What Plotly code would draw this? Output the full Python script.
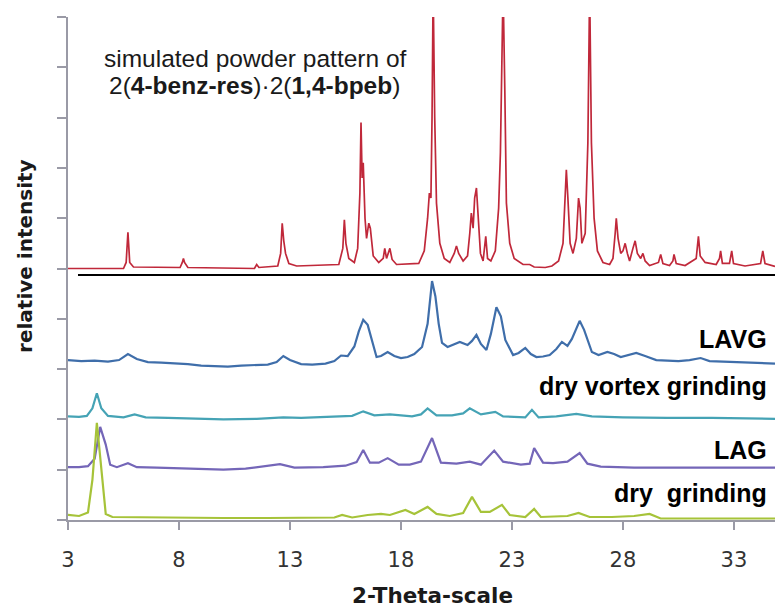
import plotly.graph_objects as go

# ---------------- data ----------------
# x axis: 2-theta in degrees; y axis: relative intensity (arbitrary units, stacked)
x_ticks = [3, 8, 13, 18, 23, 28, 33]
x_tick_labels = ["3", "8", "13", "18", "23", "28", "33"]
y_ticks = [0, 1, 2, 3, 4, 5, 6, 7, 8, 9, 10]

sim_x = [3.0, 5.5, 5.62, 5.67, 5.7, 5.73, 5.78, 5.95,
         8.05, 8.15, 8.2, 8.25, 8.4,
         11.4, 11.5, 11.6,
         12.45, 12.58, 12.65, 12.72, 12.8, 12.95, 13.3,
         15.2, 15.38, 15.45, 15.52, 15.65, 15.9,
         16.05, 16.15, 16.2, 16.25, 16.3, 16.38, 16.45, 16.55, 16.62, 16.75, 17.0,
         17.2, 17.27, 17.35, 17.5, 17.6, 17.8,
         18.8, 19.05, 19.2, 19.28, 19.35, 19.4, 19.45, 19.52, 19.6, 19.75, 19.95, 20.2,
         20.4, 20.5, 20.6, 20.8,
         21.0, 21.1, 21.17, 21.25, 21.32, 21.4, 21.48, 21.58, 21.7, 21.77, 21.82, 21.9, 22.05,
         22.25, 22.4, 22.48, 22.55, 22.6, 22.68, 22.75, 22.9, 23.1, 23.5,
         23.8, 24.0, 24.5, 24.8,
         25.1, 25.3, 25.4, 25.45, 25.52, 25.62, 25.75, 25.9, 26.0, 26.07, 26.15, 26.3,
         26.42, 26.5, 26.58, 26.7, 26.85, 27.1, 27.4,
         27.55, 27.65, 27.7, 27.78, 27.9, 28.0, 28.1, 28.2, 28.3, 28.45, 28.55, 28.65,
         28.8, 28.9, 29.0, 29.2, 29.6, 29.7, 29.8, 30.1, 30.25, 30.3, 30.4, 30.8,
         31.3, 31.4, 31.48, 31.7, 32.2, 32.35, 32.4, 32.48, 32.8, 32.9, 32.98, 33.5,
         34.2, 34.3, 34.4, 34.85]
sim_y = [5.0, 5.0, 5.12, 5.5, 5.72, 5.5, 5.12, 5.03,
         5.02, 5.12, 5.2, 5.12, 5.02,
         5.0, 5.08, 5.02,
         5.05, 5.3, 5.9, 5.55, 5.3, 5.1, 5.05,
         5.08, 5.4, 5.97, 5.5, 5.2, 5.12,
         5.4, 6.5, 7.9, 6.8, 7.1, 6.0, 5.6, 5.9, 5.8, 5.25, 5.12,
         5.2, 5.4, 5.2, 5.4, 5.18, 5.08,
         5.1, 5.35, 6.0, 6.5, 6.4, 8.0, 10.6, 8.0, 6.3, 5.5, 5.2, 5.12,
         5.3, 5.45, 5.3, 5.15,
         5.25, 5.7, 6.1, 5.8, 6.4, 6.6, 5.9, 5.3, 5.15, 5.5, 5.64, 5.2, 5.15,
         5.35, 6.2, 7.3, 9.0, 10.6, 8.5, 6.3, 5.5, 5.2, 5.08,
         5.08, 5.03, 5.02, 5.05,
         5.15, 5.5, 6.5, 6.96, 6.4, 5.5, 5.3, 5.6, 6.4, 6.2, 5.5, 5.7,
         7.5, 10.6, 7.5, 6.0, 5.35, 5.12, 5.08,
         5.2, 5.7, 6.0, 5.6, 5.3, 5.35, 5.5, 5.3, 5.15, 5.4, 5.55, 5.3,
         5.2, 5.3, 5.15, 5.06, 5.12, 5.28, 5.1, 5.06, 5.15, 5.28, 5.1, 5.06,
         5.2, 5.64, 5.25, 5.12, 5.08, 5.2, 5.35, 5.1, 5.1, 5.35, 5.1, 5.05,
         5.1, 5.35, 5.1, 5.04]

lavg_x = [3.0, 3.6, 4.2, 4.8, 5.3, 5.7, 6.1, 6.6, 7.2, 7.8, 8.4, 9.0, 9.6, 10.2, 10.8,
          11.4, 12.0, 12.4, 12.7, 13.0, 13.5, 14.0, 14.6, 15.0, 15.3, 15.6, 15.9, 16.1,
          16.3, 16.5, 16.7, 16.9, 17.1, 17.4, 17.7, 18.0, 18.3, 18.6, 18.95, 19.2, 19.4,
          19.55, 19.7, 19.85, 20.1, 20.4, 20.65, 21.0, 21.2, 21.4, 21.6, 21.85, 22.05,
          22.3, 22.5, 22.7, 23.05, 23.3, 23.6, 23.85, 24.1, 24.4, 24.7, 25.0, 25.25,
          25.5, 25.7, 26.05, 26.25, 26.6, 26.9, 27.3, 27.6, 27.9, 28.2, 28.6, 29.0,
          29.5, 30.0, 30.5, 31.0, 31.5, 31.9, 32.4, 32.9, 33.4, 33.9, 34.4, 34.85]
lavg_y = [3.18, 3.16, 3.17, 3.15, 3.18, 3.30, 3.20, 3.14, 3.13, 3.12, 3.10, 3.07, 3.06,
          3.05, 3.07, 3.08, 3.09, 3.14, 3.26, 3.18, 3.10, 3.09, 3.11, 3.16, 3.27, 3.26,
          3.45, 3.75, 3.98, 3.88, 3.55, 3.24, 3.26, 3.34, 3.26, 3.22, 3.24, 3.30, 3.44,
          3.90, 4.75, 4.45, 3.90, 3.52, 3.44, 3.50, 3.54, 3.48, 3.56, 3.68, 3.50, 3.38,
          3.70, 4.23, 4.05, 3.58, 3.28, 3.32, 3.42, 3.30, 3.24, 3.25, 3.28, 3.40, 3.54,
          3.46, 3.60, 3.96, 3.78, 3.34, 3.28, 3.34, 3.30, 3.24, 3.27, 3.32, 3.26,
          3.18, 3.17, 3.16, 3.18, 3.22, 3.16, 3.15, 3.14, 3.13, 3.13, 3.11, 3.11]

dvg_x = [3.0, 3.5, 3.85, 4.1, 4.3, 4.5, 4.8, 5.5, 6.0, 6.5, 7.5, 8.5, 10.0, 11.5, 12.7,
         13.5, 15.0, 15.8, 16.3, 16.8, 17.5, 18.5, 18.9, 19.2, 19.6, 20.3, 20.8, 21.1,
         21.6, 22.25, 22.6, 23.6, 23.9, 24.2, 25.0, 25.9, 26.6, 28.0, 30.0, 32.0, 34.85]
dvg_y = [2.06, 2.05, 2.07, 2.22, 2.52, 2.22, 2.07, 2.04, 2.10, 2.04, 2.03, 2.02, 2.00,
         2.01, 2.04, 2.03, 2.05, 2.07, 2.16, 2.08, 2.10, 2.06, 2.10, 2.22, 2.08, 2.08,
         2.12, 2.22, 2.10, 2.15, 2.06, 2.04, 2.19, 2.04, 2.06, 2.11, 2.06, 2.04, 2.03,
         2.03, 2.01]

lag_x = [3.0, 3.5, 3.9, 4.2, 4.45, 4.7, 4.9, 5.2, 5.7, 6.1, 7.0, 8.0, 9.0, 10.0, 11.0,
         12.55, 13.2, 14.5, 15.5, 16.0, 16.3, 16.6, 17.0, 17.4, 17.9, 18.4, 18.9, 19.4,
         19.8, 20.5, 21.1, 21.6, 22.2, 22.6, 23.4, 23.8, 24.0, 24.4, 24.85, 25.5, 26.05,
         26.4, 27.0, 28.5, 30.0, 32.0, 34.85]
lag_y = [1.05, 1.05, 1.07, 1.22, 1.85, 1.50, 1.10, 1.05, 1.13, 1.05, 1.04, 1.03, 1.01,
         1.00, 1.02, 1.11, 1.04, 1.05, 1.08, 1.15, 1.39, 1.14, 1.14, 1.23, 1.10, 1.10,
         1.16, 1.63, 1.14, 1.12, 1.16, 1.10, 1.38, 1.16, 1.10, 1.12, 1.43, 1.14, 1.13,
         1.16, 1.33, 1.12, 1.06, 1.04, 1.04, 1.04, 1.04]

dg_x = [3.0, 3.5, 3.9, 4.1, 4.3, 4.5, 4.7, 5.0, 6.5, 8.0, 10.0, 12.0, 14.0, 15.0, 15.35,
        15.8, 16.5, 17.1, 17.5, 18.2, 18.6, 19.2, 19.6, 20.2, 20.8, 21.2, 21.6, 22.0,
        22.55, 22.9, 23.6, 24.0, 24.3, 25.5, 26.0, 26.5, 27.5, 28.5, 29.2, 29.7, 32.0,
        34.85]
dg_y = [0.10, 0.08, 0.15, 0.80, 1.93, 1.00, 0.12, 0.06, 0.05, 0.04, 0.04, 0.04, 0.04,
        0.05, 0.10, 0.05, 0.10, 0.12, 0.10, 0.20, 0.12, 0.26, 0.12, 0.08, 0.14, 0.46,
        0.16, 0.16, 0.30, 0.10, 0.06, 0.22, 0.06, 0.08, 0.14, 0.06, 0.06, 0.08, 0.12,
        0.03, 0.03, 0.03]

series_names = ["simulated", "LAVG", "dry vortex grinding", "LAG", "dry  grinding"]
series_x = [sim_x, lavg_x, dvg_x, lag_x, dg_x]
series_y = [sim_y, lavg_y, dvg_y, lag_y, dg_y]

# label text + y level of each experimental label
label_texts = ["LAVG", "dry vortex grinding", "LAG", "dry  grinding"]
label_levels = [3.60, 2.66, 1.39, 0.54]

# black separator line level / start
sep_level = 4.87
sep_start = 3.45

# ---------------- styles ----------------
colors = ["#c0283a", "#3f6eaa", "#45a3b5", "#7466b8", "#a6c339"]
widths = [1.7, 2.2, 2.2, 2.2, 2.2]
axis_gray = "#9a9aa6"

fig = go.Figure()
for name, xs, ys, c, w in zip(series_names, series_x, series_y, colors, widths):
    fig.add_trace(go.Scatter(x=xs, y=ys, mode="lines", name=name,
                             line=dict(color=c, width=w), showlegend=False,
                             hoverinfo="skip"))

fig.add_shape(type="line", xref="x", yref="y", x0=sep_start, x1=34.85,
              y0=sep_level, y1=sep_level, line=dict(color="black", width=2))

for t, lv in zip(label_texts, label_levels):
    fig.add_annotation(text="<b>%s</b>" % t, xref="paper", yref="y", x=0.992, y=lv,
                       xanchor="right", yanchor="middle", showarrow=False,
                       font=dict(family="Liberation Sans, Arial", size=25, color="black"))

fig.add_annotation(text="simulated powder pattern of", xref="paper", yref="paper",
                   x=0.2645, y=0.918, xanchor="center", yanchor="middle", showarrow=False,
                   font=dict(family="Liberation Sans, Arial", size=24.5, color="#1a1a1a"))
fig.add_annotation(text="2(<b>4-benz-res</b>)·2(<b>1,4-bpeb</b>)", xref="paper",
                   yref="paper", x=0.2638, y=0.863, xanchor="center", yanchor="middle",
                   showarrow=False,
                   font=dict(family="Liberation Sans, Arial", size=24.5, color="#1a1a1a"))

fig.add_annotation(text="<b>2-Theta-scale</b>", xref="paper", yref="paper",
                   x=0.515, y=-0.151, xanchor="center", yanchor="middle", showarrow=False,
                   font=dict(family="DejaVu Sans", size=21.5, color="#1a1a1a"))
fig.add_annotation(text="<b>relative intensity</b>", xref="paper", yref="paper",
                   x=-0.0608, y=0.525, xanchor="center", yanchor="middle",
                   showarrow=False, textangle=-90,
                   font=dict(family="DejaVu Sans", size=20, color="#1a1a1a"))

fig.update_xaxes(range=[3, 34.85], tickmode="array", tickvals=x_ticks,
                 ticktext=x_tick_labels, showline=True, linecolor=axis_gray, linewidth=2,
                 ticks="outside", ticklen=8, tickwidth=2, tickcolor=axis_gray,
                 showgrid=False, zeroline=False, ticklabelstandoff=12,
                 tickfont=dict(family="DejaVu Sans", size=21, color="#333333"))
fig.update_yaxes(range=[0, 10], tickmode="array", tickvals=y_ticks,
                 showticklabels=False, showline=True, linecolor=axis_gray, linewidth=2,
                 ticks="outside", ticklen=9, tickwidth=1.5, tickcolor=axis_gray,
                 showgrid=False, zeroline=False)

fig.update_layout(width=775, height=610, autosize=False,
                  margin=dict(l=68, r=0, t=17, b=90),
                  paper_bgcolor="white", plot_bgcolor="white")

fig.write_html("out.html")
